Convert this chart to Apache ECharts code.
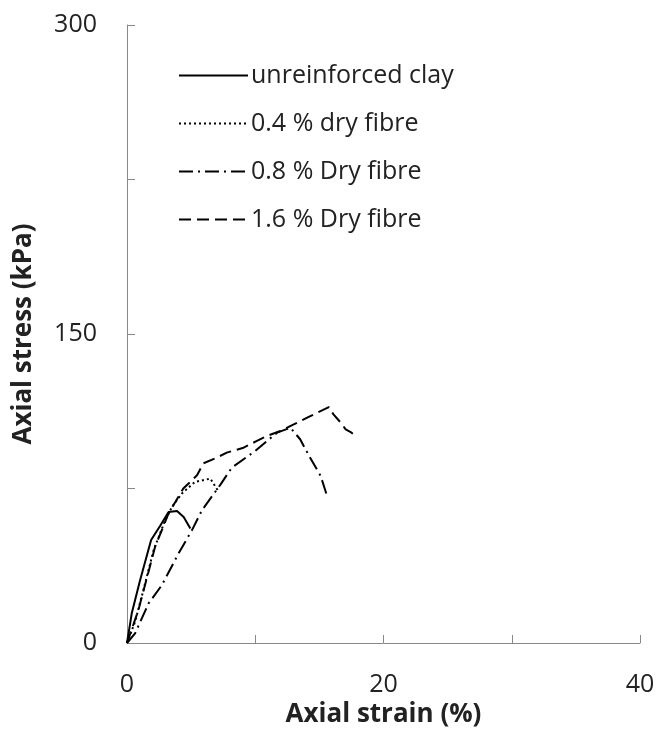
<!DOCTYPE html>
<html><head><meta charset="utf-8">
<script src="https://cdn.jsdelivr.net/npm/echarts@6/dist/echarts.min.js"></script>
<style>html,body{margin:0;padding:0;background:#fff}#c{width:658px;height:747px}</style>
</head><body><div id="c"></div>
<script>
const seriesNames = ['unreinforced clay', '0.4 % dry fibre', '0.8 % Dry fibre', '1.6 % Dry fibre'];
const clayStrain  = [0, 0.37, 1.0, 1.88, 2.6, 3.24, 3.9, 4.42, 4.94];
const clayStress  = [0, 14.4, 30, 50, 57, 63.6, 64.1, 61.2, 55.6];
const dry04Strain = [0, 0.63, 1.28, 2.07, 2.98, 3.5, 4.28, 5.3, 6.5, 7.16];
const dry04Stress = [0, 10.3, 25.7, 45, 59.6, 66, 72.6, 78.2, 79.8, 73.3];
const dry08Strain = [0, 0.63, 1.68, 2.72, 4.02, 5.07, 5.85, 7.3, 8.17, 9.09, 10.0, 10.78, 11.7, 12.74, 13.5, 14.2, 15.1, 15.6];
const dry08Stress = [0, 4.7, 19.2, 28.1, 43.5, 54.8, 64.5, 77, 85.1, 89.2, 93.2, 97.3, 102.1, 104.5, 98.9, 90.8, 81.1, 71.4];
const dry16Strain = [0, 0.89, 2.19, 3.24, 4.39, 5.46, 5.95, 7.0, 7.78, 9.09, 10.13, 10.91, 11.96, 13.0, 14.05, 15.74, 16.1, 16.66, 17.05, 17.44, 17.96];
const dry16Stress = [0, 16, 46.7, 62.9, 75, 81.4, 87.2, 90, 92.4, 94.8, 98.1, 100.5, 102.9, 106.1, 109.4, 114.5, 111, 107, 103.7, 102.4, 99.7];
const xTickLabels = [0, 20, 40];
const yTickLabels = [0, 150, 300];

function pairs(xs, ys) { return xs.map((x, i) => [x, ys[i]]); }
const dashTypes = ['solid', [2, 3], [14, 5, 2, 5], [12, 6]];
const allData = [pairs(clayStrain, clayStress), pairs(dry04Strain, dry04Stress), pairs(dry08Strain, dry08Stress), pairs(dry16Strain, dry16Stress)];

const chart = echarts.init(document.getElementById('c'), null, {renderer: 'canvas'});
const font = '"Open Sans", "Liberation Sans", sans-serif';
chart.setOption({
  animation: false,
  backgroundColor: '#fff',
  grid: {left: 127, right: 18, top: 25, bottom: 104},
  legend: {
    orient: 'vertical', left: 173, top: 58, itemGap: 23, itemWidth: 69, itemHeight: 24,
    itemStyle: {color: 'rgba(0,0,0,0)', borderColor: 'rgba(0,0,0,0)', borderWidth: 0},
    textStyle: {fontFamily: font, fontSize: 25, color: '#222', padding: [0, 0, 0, -2]},
    data: seriesNames
  },
  xAxis: {
    type: 'value', min: 0, max: 40, interval: 10,
    axisLine: {lineStyle: {color: '#888', width: 1}},
    axisTick: {inside: true, length: 8, lineStyle: {color: '#888'}},
    splitLine: {show: false},
    axisLabel: {margin: 29, fontFamily: font, fontSize: 25, color: '#222',
      formatter: v => xTickLabels.includes(v) ? String(v) : ''},
    name: 'Axial strain (%)', nameLocation: 'middle', nameGap: 55,
    nameTextStyle: {fontFamily: font, fontSize: 26, fontWeight: 'bold', color: '#222'}
  },
  yAxis: {
    type: 'value', min: 0, max: 300, interval: 75,
    axisLine: {show: true, lineStyle: {color: '#888', width: 1}},
    axisTick: {show: true, inside: true, length: 8, lineStyle: {color: '#888'}},
    splitLine: {show: false},
    axisLabel: {margin: 30, fontFamily: font, fontSize: 25, color: '#222',
      formatter: v => yTickLabels.includes(v) ? String(v) : ''},
    name: 'Axial stress (kPa)', nameLocation: 'middle', nameGap: 90,
    nameTextStyle: {fontFamily: font, fontSize: 26, fontWeight: 'bold', color: '#222'}
  },
  series: seriesNames.map((n, i) => ({
    name: n, type: 'line', data: allData[i], symbol: 'none', showSymbol: false,
    lineStyle: {color: '#000', width: 2, type: dashTypes[i]},
    itemStyle: {color: '#000'}
  }))
});
</script></body></html>
